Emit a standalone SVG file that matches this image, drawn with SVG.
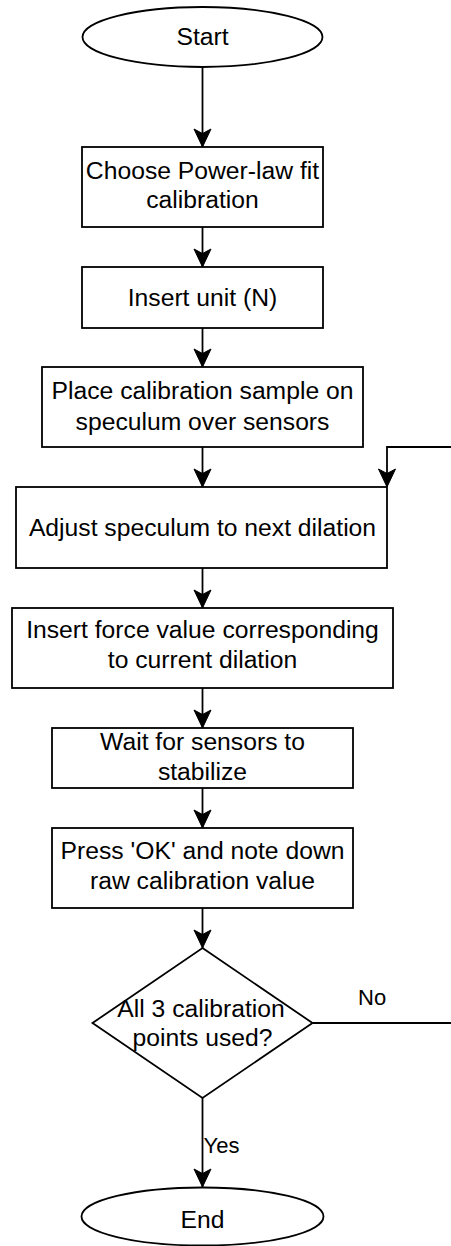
<svg xmlns="http://www.w3.org/2000/svg" width="451" height="1246" viewBox="0 0 451 1246">
  <style>
    .shape { fill: #ffffff; stroke: #000000; stroke-width: 1.8; }
    .lbl { font-family: "Liberation Sans", Arial, sans-serif; font-size: 24.7px; fill: #000000; text-anchor: middle; }
    .elbl { font-family: "Liberation Sans", Arial, sans-serif; font-size: 22px; fill: #000000; }
    .conn { fill: none; stroke: #000000; stroke-width: 1.8; marker-end: url(#arrow); }
  </style>
  <defs>
    <marker id="arrow" markerUnits="userSpaceOnUse" markerWidth="22" markerHeight="22" viewBox="-1 -11 22 22" refX="18" refY="0" orient="auto">
      <path d="M18,0 L0,-8.5 L4.5,0 L0,8.5 Z" fill="#000000" stroke="#000000" stroke-width="1"/>
    </marker>
  </defs>
  <rect width="451" height="1246" fill="#ffffff"/>

  <g id="connectors">
    <path class="conn" d="M202.5,67 V147"/>
    <path class="conn" d="M202.5,227 V267"/>
    <path class="conn" d="M202.5,328 V367"/>
    <path class="conn" d="M202.5,447 V487"/>
    <path class="conn" d="M202.5,568 V608"/>
    <path class="conn" d="M202.5,688 V728"/>
    <path class="conn" d="M202.5,788 V828"/>
    <path class="conn" d="M202.5,908 V948"/>
    <path class="conn" d="M202.5,1098 V1187"/>
    <path class="conn" d="M312.5,1023 H470 V447 H387 V487"/>
    <text class="elbl" x="358" y="1005">No</text>
    <text class="elbl" x="203.5" y="1153">Yes</text>
  </g>

  <g id="start">
    <ellipse class="shape" cx="202.5" cy="37" rx="120" ry="30"/>
    <text class="lbl" x="202.5" y="45">Start</text>
  </g>
  <g id="choose">
    <rect class="shape" x="82" y="147" width="241" height="80"/>
    <text class="lbl" x="202.5" y="179">Choose Power-law fit</text>
    <text class="lbl" x="202.5" y="208">calibration</text>
  </g>
  <g id="insert-unit">
    <rect class="shape" x="82" y="267" width="241" height="61"/>
    <text class="lbl" x="202.5" y="306">Insert unit (N)</text>
  </g>
  <g id="place-sample">
    <rect class="shape" x="42" y="367" width="321" height="80"/>
    <text class="lbl" x="202.5" y="399">Place calibration sample on</text>
    <text class="lbl" x="202.5" y="430">speculum over sensors</text>
  </g>
  <g id="adjust">
    <rect class="shape" x="16" y="487" width="371" height="81"/>
    <text class="lbl" x="202.5" y="536">Adjust speculum to next dilation</text>
  </g>
  <g id="insert-force">
    <rect class="shape" x="12" y="608" width="381" height="80"/>
    <text class="lbl" x="202.5" y="638">Insert force value corresponding</text>
    <text class="lbl" x="202.5" y="668">to current dilation</text>
  </g>
  <g id="wait">
    <rect class="shape" x="52" y="728" width="301" height="60"/>
    <text class="lbl" x="202.5" y="750">Wait for sensors to</text>
    <text class="lbl" x="202.5" y="780">stabilize</text>
  </g>
  <g id="press-ok">
    <rect class="shape" x="52" y="828" width="301" height="80"/>
    <text class="lbl" x="202.5" y="859">Press 'OK' and note down</text>
    <text class="lbl" x="202.5" y="889">raw calibration value</text>
  </g>
  <g id="decision">
    <polygon class="shape" points="202.5,948 312.5,1023 202.5,1098 92.5,1023"/>
    <text class="lbl" x="201" y="1016.5">All 3 calibration</text>
    <text class="lbl" x="202.5" y="1045.5">points used?</text>
  </g>
  <g id="end">
    <ellipse class="shape" cx="202.5" cy="1216.5" rx="121" ry="29"/>
    <text class="lbl" x="202.5" y="1228">End</text>
  </g>
</svg>
